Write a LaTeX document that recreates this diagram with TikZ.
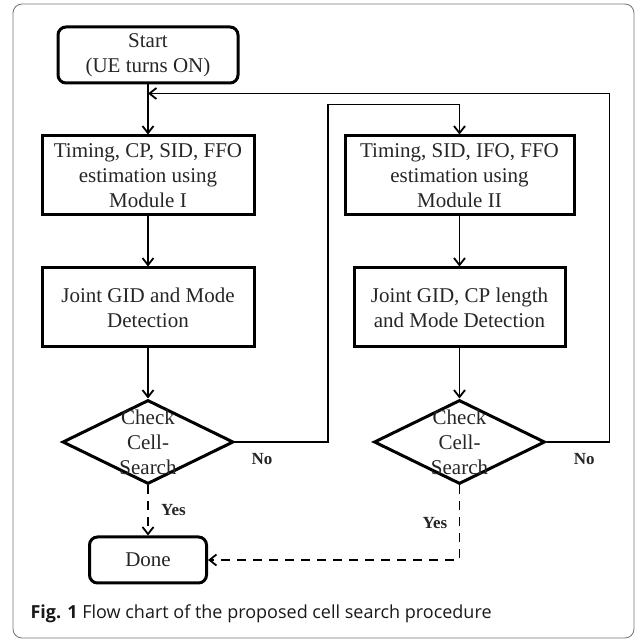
\documentclass[tikz,border=0pt]{standalone}
\usepackage{fontspec}
\setmainfont{Liberation Serif}
\newfontfamily\capfont{Open Sans}
\usetikzlibrary{shapes.geometric,positioning,arrows.meta,calc}
\tikzset{
>={Straight Barb[length=7pt,width=11pt]},
node distance=50pt,
every node/.style={text=black!85},
process/.style={draw, line width=3pt, align=center, inner sep=0pt, minimum height=79pt, font=\fontsize{21}{25}\selectfont},
terminal/.style={process, rounded corners=8pt},
decision/.style={draw, diamond, line width=3pt, inner sep=0pt, minimum width=171pt, minimum height=84pt},
decisiontext/.style={align=center, font=\fontsize{21}{25}\selectfont},
flow/.style={->, line width=1.8pt},
yesflow/.style={flow, dash pattern=on 9pt off 7pt},
answer/.style={font=\fontsize{17}{20}\selectfont\bfseries},
}

\begin{document}
\begin{tikzpicture}[x=1pt,y=1pt]
    \useasboundingbox (0,0) rectangle (635,641);
    \draw[black!55, line width=0.8pt, rounded corners=9pt] (13,3) rectangle (634,637);

    \node[terminal, minimum width=180pt, minimum height=56pt] (start) at (148,586) {Start\\(UE turns ON)};
    \node[process, minimum width=212pt, below=of start] (est1) {Timing, CP, SID, FFO\\estimation using\\Module I};
    \node[process, minimum width=212pt, below=of est1] (joint1) {Joint GID and Mode\\Detection};
    \node[decision, below=of joint1, label={[decisiontext]center:Check\\Cell-\\Search}] (check1) {};
    \node[terminal, minimum width=117pt, minimum height=46pt, below=of check1] (done) {Done};

    \node[process, minimum width=229pt, right=88pt of est1] (est2) {Timing, SID, IFO, FFO\\estimation using\\Module II};
    \node[process, minimum width=211pt, below=of est2] (joint2) {Joint GID, CP length\\and Mode Detection};
    \node[decision, below=of joint2, label={[decisiontext]center:Check\\Cell-\\Search}] (check2) {};

    \coordinate (merge) at ($(start.south)!0.18!(est1.north)$);

    \draw[flow] (start.south) -- (est1.north);
    \draw[flow] (est1.south) -- (joint1.north);
    \draw[flow] (joint1.south) -- (check1.north);
    \draw[flow] (est2.south) -- (joint2.north);
    \draw[flow] (joint2.south) -- (check2.north);
    \draw[flow] (check1.east) -- ++(93,0) node[answer, pos=0.29, below=7pt]{No} |- ($(est2.north)+(0,30)$) -- (est2.north);
    \draw[flow] (check2.east) -- ++(63,0) node[answer, pos=0.6, below=7pt]{No} |- (merge);
    \draw[yesflow] (check1.south) -- node[answer, right=9pt]{Yes} (done.north);
    \draw[yesflow] (check2.south) |- node[answer, pos=0.25, left=8pt]{Yes} (done.east);

    \node[anchor=base west, font=\capfont\fontsize{18}{21}\selectfont, text=black!90] (caption) at (27,23) {\textbf{Fig. 1} Flow chart of the proposed cell search procedure};

\end{tikzpicture}
\end{document}
